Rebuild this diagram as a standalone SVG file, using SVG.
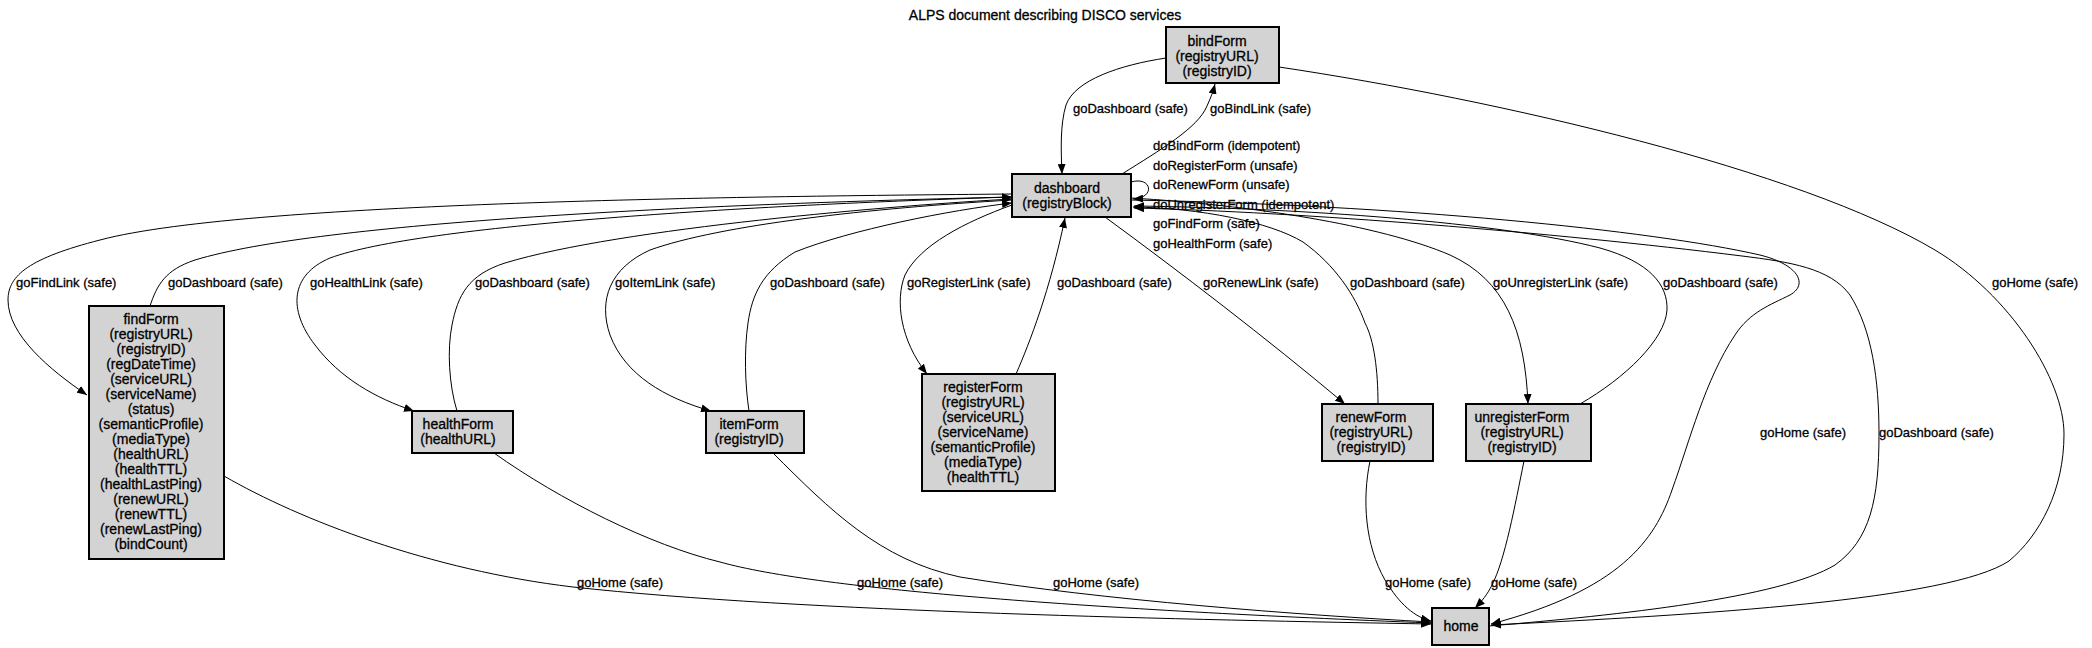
<svg xmlns="http://www.w3.org/2000/svg" width="2092" height="648" viewBox="0 0 2092 648">
<defs>
<style>
.n rect{fill:#d3d3d3;stroke:#000;stroke-width:2}
.n text,.t{font-family:"Liberation Sans",Arial,Helvetica,sans-serif;font-size:14px;fill:#000;stroke:#000;stroke-width:0.3;text-anchor:middle}
.e path{fill:none;stroke:#000;stroke-width:1;marker-end:url(#ah)}
.l{font-family:"Liberation Sans",Arial,Helvetica,sans-serif;font-size:13px;fill:#000;stroke:#000;stroke-width:0.3}
</style>
<marker id="ah" markerUnits="userSpaceOnUse" markerWidth="10" markerHeight="8" viewBox="0 0 10 8" refX="10" refY="4" orient="auto">
<path d="M0,0 L10,4 L0,8 Z" fill="#000"/>
</marker>
</defs>
<rect width="2092" height="648" fill="#fff"/>
<text class="t" x="1045" y="20">ALPS document describing DISCO services</text>

<g id="connectors" class="e">
<path d="M1012,194 C800,196 250,200 100,240 C30,258 8,275 8,300 C8,335 50,370 87,395"/>
<path d="M150,306 C157,285 165,270 195,260 C320,222 700,204 1012,197"/>
<path d="M1012,197 C750,205 420,225 330,258 C290,275 288,310 315,345 C340,378 375,398 414,411"/>
<path d="M457,411 C449,385 447,350 452,325 C458,295 468,275 505,263 C620,228 900,205 1012,199"/>
<path d="M1012,200 C870,208 720,225 650,250 C610,268 598,300 610,335 C625,375 665,398 711,411"/>
<path d="M749,411 C745,385 744,350 748,323 C752,295 762,272 795,252 C850,230 950,210 1012,203"/>
<path d="M1012,205 C965,222 920,245 905,275 C895,300 900,340 927,374"/>
<path d="M1016,374 C1030,342 1050,290 1065,218"/>
<path d="M1122,174 C1160,150 1198,128 1207,106 C1211,97 1213,92 1215,84"/>
<path d="M1166,58 C1120,65 1075,80 1066,105 C1060,125 1061,150 1062,174"/>
<path d="M1131,182 C1152,176 1156,198 1133,199"/>
<path d="M1105,217 C1180,272 1265,337 1345,404"/>
<path d="M1378,404 C1378,370 1374,340 1365,323 C1355,295 1335,265 1303,242 C1270,222 1200,208 1133,207"/>
<path d="M1131,198 C1250,205 1380,225 1450,255 C1505,280 1525,330 1528,404"/>
<path d="M1580,404 C1625,378 1665,340 1667,310 C1668,285 1650,262 1600,248 C1500,222 1300,208 1134,206"/>
<path d="M1131,200 C1400,205 1650,230 1760,255 C1800,265 1808,285 1790,295 C1770,305 1750,312 1735,335 C1705,380 1690,440 1672,490 C1655,540 1620,590 1491,624"/>
<path d="M1489,626 C1620,615 1780,598 1835,565 C1870,540 1879,500 1879,434 C1879,380 1872,330 1850,295 C1830,268 1790,262 1742,256 C1550,232 1300,212 1134,208"/>
<path d="M1279,67 C1500,100 1800,170 1935,250 C2010,295 2064,380 2064,434 C2064,490 2040,535 2009,561 C1950,600 1700,615 1491,625"/>
<path d="M224,476 C300,520 430,570 573,587 C800,612 1200,620 1431,624"/>
<path d="M494,453 C560,500 650,545 720,562 C820,590 1100,610 1431,623"/>
<path d="M773,453 C830,510 880,560 960,577 C1100,600 1300,615 1431,622"/>
<path d="M1370,461 C1362,500 1365,545 1385,580 C1400,605 1415,617 1431,621"/>
<path d="M1524,461 C1515,505 1505,560 1492,585 C1487,595 1482,601 1475,608"/>
</g>

<g id="labels">
<text class="l" x="16" y="287">goFindLink (safe)</text>
<text class="l" x="168" y="287">goDashboard (safe)</text>
<text class="l" x="310" y="287">goHealthLink (safe)</text>
<text class="l" x="475" y="287">goDashboard (safe)</text>
<text class="l" x="615" y="287">goItemLink (safe)</text>
<text class="l" x="770" y="287">goDashboard (safe)</text>
<text class="l" x="907" y="287">goRegisterLink (safe)</text>
<text class="l" x="1057" y="287">goDashboard (safe)</text>
<text class="l" x="1203" y="287">goRenewLink (safe)</text>
<text class="l" x="1350" y="287">goDashboard (safe)</text>
<text class="l" x="1493" y="287">goUnregisterLink (safe)</text>
<text class="l" x="1663" y="287">goDashboard (safe)</text>
<text class="l" x="1992" y="287">goHome (safe)</text>
<text class="l" x="1073" y="113">goDashboard (safe)</text>
<text class="l" x="1210" y="113">goBindLink (safe)</text>
<text class="l" x="1153" y="150">doBindForm (idempotent)</text>
<text class="l" x="1153" y="170">doRegisterForm (unsafe)</text>
<text class="l" x="1153" y="189">doRenewForm (unsafe)</text>
<text class="l" x="1153" y="209">doUnregisterForm (idempotent)</text>
<text class="l" x="1153" y="228">goFindForm (safe)</text>
<text class="l" x="1153" y="248">goHealthForm (safe)</text>
<text class="l" x="577" y="587">goHome (safe)</text>
<text class="l" x="857" y="587">goHome (safe)</text>
<text class="l" x="1053" y="587">goHome (safe)</text>
<text class="l" x="1385" y="587">goHome (safe)</text>
<text class="l" x="1491" y="587">goHome (safe)</text>
<text class="l" x="1760" y="437">goHome (safe)</text>
<text class="l" x="1879" y="437">goDashboard (safe)</text>
</g>

<g id="bindForm" class="n">
<rect x="1166" y="27" width="113" height="56"/>
<text x="1217" y="46">bindForm</text>
<text x="1217" y="61">(registryURL)</text>
<text x="1217" y="76">(registryID)</text>
</g>
<g id="dashboard" class="n">
<rect x="1012" y="174" width="119" height="43"/>
<text x="1067" y="193">dashboard</text>
<text x="1067" y="208">(registryBlock)</text>
</g>
<g id="findForm" class="n">
<rect x="89" y="306" width="135" height="253"/>
<text x="151" y="324">findForm</text>
<text x="151" y="339">(registryURL)</text>
<text x="151" y="354">(registryID)</text>
<text x="151" y="369">(regDateTime)</text>
<text x="151" y="384">(serviceURL)</text>
<text x="151" y="399">(serviceName)</text>
<text x="151" y="414">(status)</text>
<text x="151" y="429">(semanticProfile)</text>
<text x="151" y="444">(mediaType)</text>
<text x="151" y="459">(healthURL)</text>
<text x="151" y="474">(healthTTL)</text>
<text x="151" y="489">(healthLastPing)</text>
<text x="151" y="504">(renewURL)</text>
<text x="151" y="519">(renewTTL)</text>
<text x="151" y="534">(renewLastPing)</text>
<text x="151" y="549">(bindCount)</text>
</g>
<g id="healthForm" class="n">
<rect x="412" y="411" width="101" height="42"/>
<text x="458" y="429">healthForm</text>
<text x="458" y="444">(healthURL)</text>
</g>
<g id="itemForm" class="n">
<rect x="706" y="411" width="98" height="42"/>
<text x="749" y="429">itemForm</text>
<text x="749" y="444">(registryID)</text>
</g>
<g id="registerForm" class="n">
<rect x="922" y="374" width="133" height="117"/>
<text x="983" y="392">registerForm</text>
<text x="983" y="407">(registryURL)</text>
<text x="983" y="422">(serviceURL)</text>
<text x="983" y="437">(serviceName)</text>
<text x="983" y="452">(semanticProfile)</text>
<text x="983" y="467">(mediaType)</text>
<text x="983" y="482">(healthTTL)</text>
</g>
<g id="renewForm" class="n">
<rect x="1322" y="404" width="111" height="57"/>
<text x="1371" y="422">renewForm</text>
<text x="1371" y="437">(registryURL)</text>
<text x="1371" y="452">(registryID)</text>
</g>
<g id="unregisterForm" class="n">
<rect x="1466" y="404" width="125" height="57"/>
<text x="1522" y="422">unregisterForm</text>
<text x="1522" y="437">(registryURL)</text>
<text x="1522" y="452">(registryID)</text>
</g>
<g id="home" class="n">
<rect x="1432" y="608" width="57" height="37"/>
<text x="1461" y="631">home</text>
</g>
</svg>
